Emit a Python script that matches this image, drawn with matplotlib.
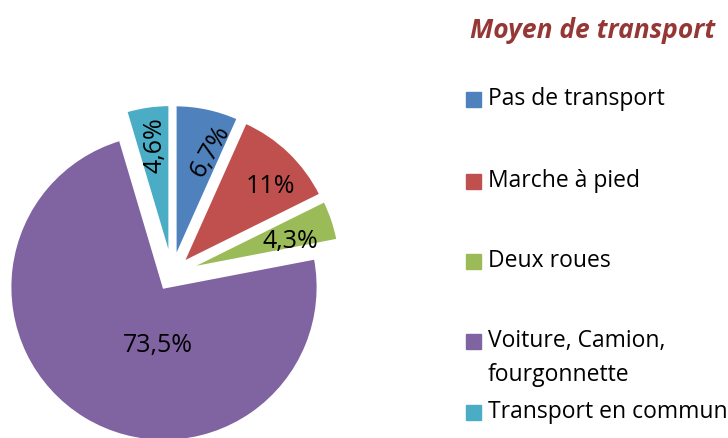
import matplotlib.pyplot as plt
import numpy as np

plt.rcParams['font.family'] = ['Open Sans', 'DejaVu Sans']

# data
categories = ['Pas de transport', 'Marche à pied', 'Deux roues',
              'Voiture, Camion,\nfourgonnette', 'Transport en commun']
values = [6.7, 11, 4.3, 73.5, 4.6]
value_labels = ['6,7%', '11%', '4,3%', '73,5%', '4,6%']
colors = ['#4F81BD', '#C0504D', '#9BBB59', '#8064A2', '#4BACC6']

# label placement (radius fraction, angle shift in deg, rotation)
label_r = [0.84, 0.86, 0.80, 0.47, 0.85]
label_shift = [-5, -4, -3, 20, -1]
label_rot = [60, 0, 0, 0, 90]

W, H = 728, 439
fig = plt.figure(figsize=(W / 100, H / 100), dpi=100)

# pie centre and radius in pixels
cx, cy, R = 172, 275, 154
half = 1.2 * R
ax = fig.add_axes([(cx - half) / W, (H - cy - half) / H, 2 * half / W, 2 * half / H])
wedges, _ = ax.pie(values, colors=colors, startangle=90, counterclock=False,
                   explode=[0.1] * len(values), radius=1,
                   wedgeprops=dict(edgecolor='white', linewidth=2))
ax.set_xlim(-1.2, 1.2)
ax.set_ylim(-1.2, 1.2)
ax.set_aspect('equal')
ax.axis('off')

total = sum(values)
start = 90.0
for i, v in enumerate(values):
    mid = start - v / total * 360 / 2
    start -= v / total * 360
    a = np.deg2rad(mid + label_shift[i])
    ax.text(label_r[i] * np.cos(a), label_r[i] * np.sin(a), value_labels[i],
            ha='center', va='center', fontsize=18, rotation=label_rot[i],
            color='black')

# legend (drawn by hand to keep Excel spacing)
fig.text(593 / W, 1 - 30 / H, 'Moyen de transport', ha='center', va='center',
         fontsize=19, fontweight='bold', fontstyle='italic', color='#953735')
row_y = [100, 182, 262, 342, 413]
for i, lab in enumerate(categories):
    y = row_y[i]
    fig.patches.append(plt.Rectangle((466 / W, 1 - (y + 7.5) / H), 15 / W, 15 / H,
                                     transform=fig.transFigure, color=colors[i]))
    fig.text(488 / W, 1 - (y - 13) / H, lab, ha='left', va='top',
             fontsize=16.5, color='black', linespacing=1.55)

fig.savefig('out.png', dpi=100)
